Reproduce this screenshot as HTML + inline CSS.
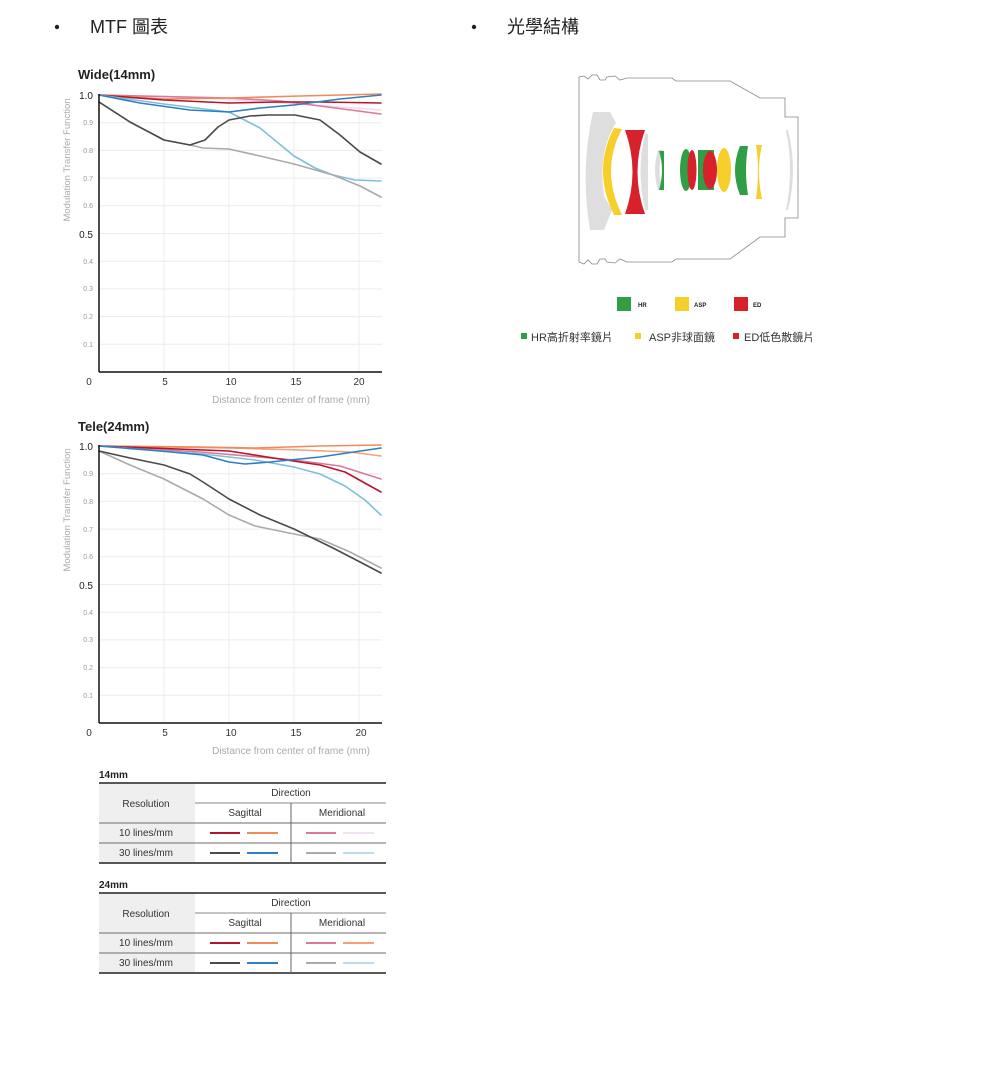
<!DOCTYPE html>
<html><head><meta charset="utf-8"><style>
html,body{margin:0;padding:0;background:#fff;}
svg{display:block;}
text{font-family:"Liberation Sans","Noto Sans CJK TC",sans-serif;}
</style></head><body>
<svg width="1000" height="1066" viewBox="0 0 1000 1066" xmlns="http://www.w3.org/2000/svg">
<circle cx="57" cy="27" r="2.2" fill="#222"/>
<text x="90" y="33" font-size="18" fill="#222">MTF 圖表</text>
<circle cx="474" cy="27" r="2.2" fill="#222"/>
<text x="507" y="33" font-size="18" fill="#222">光學結構</text>

<g>
<text x="78" y="79" font-size="13" font-weight="bold" fill="#222">Wide(14mm)</text>
<g stroke="#ececec" stroke-width="1">
<line x1="99" x2="382" y1="122.7" y2="122.7"/><line x1="99" x2="382" y1="150.4" y2="150.4"/>
<line x1="99" x2="382" y1="178.1" y2="178.1"/><line x1="99" x2="382" y1="205.8" y2="205.8"/>
<line x1="99" x2="382" y1="233.5" y2="233.5"/><line x1="99" x2="382" y1="261.2" y2="261.2"/>
<line x1="99" x2="382" y1="288.9" y2="288.9"/><line x1="99" x2="382" y1="316.6" y2="316.6"/>
<line x1="99" x2="382" y1="344.3" y2="344.3"/>
<line x1="164" x2="164" y1="95" y2="372"/><line x1="229" x2="229" y1="95" y2="372"/>
<line x1="294" x2="294" y1="95" y2="372"/><line x1="359" x2="359" y1="95" y2="372"/>
</g>
<g font-size="7" fill="#999" text-anchor="end">
<text x="93" y="125">0.9</text><text x="93" y="153">0.8</text><text x="93" y="181">0.7</text><text x="93" y="208">0.6</text>
<text x="93" y="264">0.4</text><text x="93" y="291">0.3</text><text x="93" y="319">0.2</text><text x="93" y="347">0.1</text>
</g>
<text x="93" y="99" font-size="10" fill="#222" text-anchor="end">1.0</text>
<text x="93" y="238" font-size="10" fill="#222" text-anchor="end">0.5</text>
<g font-size="10" fill="#333" text-anchor="middle">
<text x="89" y="385">0</text><text x="165" y="385">5</text><text x="231" y="385">10</text><text x="296" y="385">15</text><text x="359" y="385">20</text>
</g>
<text x="291" y="403" font-size="10" fill="#aaa" text-anchor="middle">Distance from center of frame (mm)</text>
<text transform="translate(70,160) rotate(-90)" font-size="9.5" fill="#aaa" text-anchor="middle">Modulation Transfer Function</text>
<g fill="none" stroke-width="1.6" stroke-linejoin="round" stroke-linecap="round">
<polyline stroke="#f3d9f0" points="99,95 200,98 300,104 381,110"/>
<polyline stroke="#d97a9a" points="99,95 229,98 280,101 320,106 381,114"/>
<polyline stroke="#f08a5d" points="99,95 164,99 229,98 300,96 381,94"/>
<polyline stroke="#b3162e" points="99,95 164,100 229,103 280,102 320,102 381,103"/>
<polyline stroke="#7dc0d8" points="99,95 164,104 229,112 260,128 294,156 315,168 333,175 355,180 381,181"/>
<polyline stroke="#2b7fc2" points="99,95 140,103 190,110 229,112 260,108 294,105 340,99 381,95"/>
<polyline stroke="#aaaaaa" points="99,102 130,122 164,140 190,145 203,148 229,149 260,156 294,164 333,175 360,186 381,197"/>
<polyline stroke="#4a4a4a" points="99,102 130,122 164,140 190,145 205,140 218,127 229,120 250,116 268,115 295,115 320,120 340,135 360,152 381,164"/>
</g>
<line x1="99" y1="94" x2="99" y2="372" stroke="#111" stroke-width="1.5"/>
<line x1="99" y1="372" x2="382" y2="372" stroke="#111" stroke-width="1.5"/>
</g>

<g>
<text x="78" y="431" font-size="13" font-weight="bold" fill="#222">Tele(24mm)</text>
<g stroke="#ececec" stroke-width="1">
<line x1="99" x2="382" y1="473.7" y2="473.7"/><line x1="99" x2="382" y1="501.4" y2="501.4"/>
<line x1="99" x2="382" y1="529.1" y2="529.1"/><line x1="99" x2="382" y1="556.8" y2="556.8"/>
<line x1="99" x2="382" y1="584.5" y2="584.5"/><line x1="99" x2="382" y1="612.2" y2="612.2"/>
<line x1="99" x2="382" y1="639.9" y2="639.9"/><line x1="99" x2="382" y1="667.6" y2="667.6"/>
<line x1="99" x2="382" y1="695.3" y2="695.3"/>
<line x1="164" x2="164" y1="446" y2="723"/><line x1="229" x2="229" y1="446" y2="723"/>
<line x1="294" x2="294" y1="446" y2="723"/><line x1="359" x2="359" y1="446" y2="723"/>
</g>
<g font-size="7" fill="#999" text-anchor="end">
<text x="93" y="476">0.9</text><text x="93" y="504">0.8</text><text x="93" y="532">0.7</text><text x="93" y="559">0.6</text>
<text x="93" y="615">0.4</text><text x="93" y="642">0.3</text><text x="93" y="670">0.2</text><text x="93" y="698">0.1</text>
</g>
<text x="93" y="450" font-size="10" fill="#222" text-anchor="end">1.0</text>
<text x="93" y="589" font-size="10" fill="#222" text-anchor="end">0.5</text>
<g font-size="10" fill="#333" text-anchor="middle">
<text x="89" y="736">0</text><text x="165" y="736">5</text><text x="231" y="736">10</text><text x="296" y="736">15</text><text x="361" y="736">20</text>
</g>
<text x="291" y="754" font-size="10" fill="#aaa" text-anchor="middle">Distance from center of frame (mm)</text>
<text transform="translate(70,510) rotate(-90)" font-size="9.5" fill="#aaa" text-anchor="middle">Modulation Transfer Function</text>
<g fill="none" stroke-width="1.6" stroke-linejoin="round" stroke-linecap="round">
<polyline stroke="#f5a07a" points="99,446 229,448 300,450 350,452 381,456"/>
<polyline stroke="#d97a9a" points="99,446 200,452 294,460 340,466 381,479"/>
<polyline stroke="#f08a5d" points="99,446 200,447 255,448 320,446 381,445"/>
<polyline stroke="#b3162e" points="99,446 229,451 280,459 320,465 345,472 381,492"/>
<polyline stroke="#7dc0d8" points="99,446 203,454 255,460 294,467 320,474 345,486 365,500 381,515"/>
<polyline stroke="#2b7fc2" points="99,446 160,451 203,455 229,462 245,464 270,462 320,457 381,448"/>
<polyline stroke="#aaaaaa" points="99,451 130,465 164,479 203,499 229,515 255,526 294,534 320,539 350,552 381,568"/>
<polyline stroke="#4a4a4a" points="99,451 130,458 164,465 190,474 203,482 229,499 260,515 294,529 333,548 360,562 381,573"/>
</g>
<line x1="99" y1="445" x2="99" y2="723" stroke="#111" stroke-width="1.5"/>
<line x1="99" y1="723" x2="382" y2="723" stroke="#111" stroke-width="1.5"/>
</g>

<g>
<text x="99" y="778" font-size="10" font-weight="bold" fill="#222">14mm</text>
<rect x="99" y="783" width="96" height="40" fill="#efefef"/>
<rect x="99" y="823" width="96" height="40" fill="#efefef"/>
<line x1="99" y1="783" x2="386" y2="783" stroke="#222" stroke-width="1.5"/>
<line x1="195" y1="803" x2="386" y2="803" stroke="#888" stroke-width="1"/>
<line x1="99" y1="823" x2="386" y2="823" stroke="#888" stroke-width="1.2"/>
<line x1="99" y1="843" x2="386" y2="843" stroke="#888" stroke-width="1.2"/>
<line x1="99" y1="863" x2="386" y2="863" stroke="#222" stroke-width="1.5"/>
<line x1="291" y1="803" x2="291" y2="863" stroke="#666" stroke-width="1"/>
<g font-size="10" fill="#333" text-anchor="middle">
<text x="146" y="807">Resolution</text><text x="291" y="796">Direction</text>
<text x="245" y="816">Sagittal</text><text x="342" y="816">Meridional</text>
<text x="146" y="836">10 lines/mm</text><text x="146" y="856">30 lines/mm</text>
</g>
<g stroke-width="2">
<line x1="210" x2="240" y1="833" y2="833" stroke="#b3162e"/><line x1="247" x2="278" y1="833" y2="833" stroke="#f08a5d"/>
<line x1="306" x2="336" y1="833" y2="833" stroke="#d97a9a"/><line x1="343" x2="374" y1="833" y2="833" stroke="#f3e0f0"/>
<line x1="210" x2="240" y1="853" y2="853" stroke="#4a4a4a"/><line x1="247" x2="278" y1="853" y2="853" stroke="#2b7fc2"/>
<line x1="306" x2="336" y1="853" y2="853" stroke="#aaaaaa"/><line x1="343" x2="374" y1="853" y2="853" stroke="#b8dce8"/>
</g>
</g>
<g transform="translate(0,110)">
<text x="99" y="778" font-size="10" font-weight="bold" fill="#222">24mm</text>
<rect x="99" y="783" width="96" height="40" fill="#efefef"/>
<rect x="99" y="823" width="96" height="40" fill="#efefef"/>
<line x1="99" y1="783" x2="386" y2="783" stroke="#222" stroke-width="1.5"/>
<line x1="195" y1="803" x2="386" y2="803" stroke="#888" stroke-width="1"/>
<line x1="99" y1="823" x2="386" y2="823" stroke="#888" stroke-width="1.2"/>
<line x1="99" y1="843" x2="386" y2="843" stroke="#888" stroke-width="1.2"/>
<line x1="99" y1="863" x2="386" y2="863" stroke="#222" stroke-width="1.5"/>
<line x1="291" y1="803" x2="291" y2="863" stroke="#666" stroke-width="1"/>
<g font-size="10" fill="#333" text-anchor="middle">
<text x="146" y="807">Resolution</text><text x="291" y="796">Direction</text>
<text x="245" y="816">Sagittal</text><text x="342" y="816">Meridional</text>
<text x="146" y="836">10 lines/mm</text><text x="146" y="856">30 lines/mm</text>
</g>
<g stroke-width="2">
<line x1="210" x2="240" y1="833" y2="833" stroke="#b3162e"/><line x1="247" x2="278" y1="833" y2="833" stroke="#f08a5d"/>
<line x1="306" x2="336" y1="833" y2="833" stroke="#d97a9a"/><line x1="343" x2="374" y1="833" y2="833" stroke="#f5a07a"/>
<line x1="210" x2="240" y1="853" y2="853" stroke="#4a4a4a"/><line x1="247" x2="278" y1="853" y2="853" stroke="#2b7fc2"/>
<line x1="306" x2="336" y1="853" y2="853" stroke="#aaaaaa"/><line x1="343" x2="374" y1="853" y2="853" stroke="#b8dce8"/>
</g>
</g>

<g>
<path d="M579,77 L584,76 L588,79 L592,75 L597,75 L600,80 L605,80 L607,77 L615,76 L620,80 L627,78 L672,78 L676,81 L730,81 L760,98 L785,98 L785,117 L798,117 L798,218 L785,218 L785,237 L760,237 L730,259 L676,259 L672,262 L627,262 L620,259 L615,263 L607,262 L605,259 L600,259 L597,264 L592,264 L588,260 L584,264 L579,262 Z" fill="#fff" stroke="#888" stroke-width="0.8"/>
<path d="M593,112 L610,112 L616,123 Q598,150 604,196 L612,210 L604,230 L590,230 Q580,170 593,112 Z" fill="#dedede"/>
<path d="M614,128 L622,129 Q600,170 622,215 L614,215 Q592,170 614,128 Z" fill="#f6cf2a"/>
<path d="M625,130 L645,130 Q630,172 645,214 L625,214 Q640,172 625,130 Z" fill="#d7212b"/>
<path d="M645,134 Q636,170 645,210 L648,210 Q648,170 648,134 Z" fill="#dedede"/>
<path d="M658,150 L663,150 Q656,170 663,190 L658,190 Q652,170 658,150 Z" fill="#dedede"/>
<path d="M659,151 L664,151 L664,190 L659,190 Q665,170 659,151 Z" fill="#2f9e44"/>
<ellipse cx="686" cy="170" rx="6" ry="21" fill="#2f9e44"/>
<ellipse cx="692" cy="170" rx="4.5" ry="20" fill="#d7212b"/>
<rect x="698" y="150" width="16" height="40" fill="#2f9e44"/>
<ellipse cx="710" cy="170" rx="7" ry="19" fill="#d7212b"/>
<ellipse cx="724" cy="170" rx="7" ry="22" fill="#f6cf2a"/>
<path d="M740,146 Q730,170 740,195 L748,195 Q744,170 748,146 Z" fill="#2f9e44"/>
<path d="M756,145 L762,145 Q756,170 762,199 L756,199 Q760,170 756,145 Z" fill="#f6cf2a"/>
<path d="M786,130 Q794,170 786,210 L788,210 Q798,170 788,130 Z" fill="#dedede"/>
</g>
<rect x="617" y="297" width="14" height="14" fill="#2f9e44"/><text x="638" y="307" font-size="6" font-weight="bold" fill="#222">HR</text>
<rect x="675" y="297" width="14" height="14" fill="#f6cf2a"/><text x="694" y="307" font-size="6" font-weight="bold" fill="#222">ASP</text>
<rect x="734" y="297" width="14" height="14" fill="#d7212b"/><text x="753" y="307" font-size="6" font-weight="bold" fill="#222">ED</text>
<rect x="521" y="333" width="6" height="6" fill="#2f9e44"/><text x="531" y="341" font-size="11" fill="#333">HR高折射率鏡片</text>
<rect x="635" y="333" width="6" height="6" fill="#f6cf2a"/><text x="649" y="341" font-size="11" fill="#333">ASP非球面鏡</text>
<rect x="733" y="333" width="6" height="6" fill="#d7212b"/><text x="744" y="341" font-size="11" fill="#333">ED低色散鏡片</text>
</svg>
</body></html>
